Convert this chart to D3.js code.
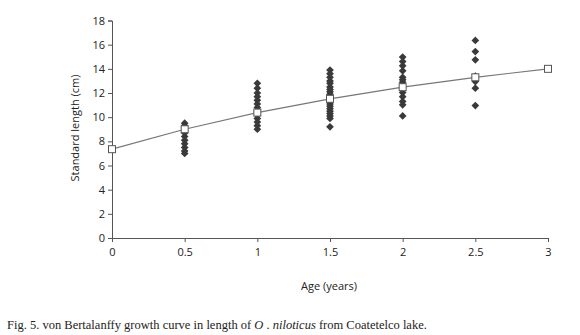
<!DOCTYPE html>
<html>
<head>
<meta charset="utf-8">
<script src="https://cdn.jsdelivr.net/npm/d3@7.9.0/dist/d3.min.js"></script>
<style>
  body { margin: 0; background: #fff; }
  svg { display: block; }
</style>
</head>
<body>
<svg id="chart" width="580" height="335"></svg>
<script>
// fitted von Bertalanffy curve values (age, length)
const fitAges = [0, 0.5, 1, 1.5, 2, 2.5, 3];
const fitLengths = [7.35, 9.0, 10.38, 11.52, 12.48, 13.3, 14.0];

// observed lengths per age class
const obsAges = [0.5, 1, 1.5, 2, 2.5];
const obsLengths = [
  [9.5, 9.3, 9.1, 8.9, 8.7, 8.4, 8.1, 7.8, 7.5, 7.2, 7.0],
  [12.8, 12.4, 12.0, 11.7, 11.4, 11.1, 10.8, 10.5, 10.2, 9.9, 9.6, 9.3, 9.0],
  [13.9, 13.6, 13.3, 13.0, 12.8, 12.5, 12.3, 12.1, 11.9, 11.7, 11.5, 11.3, 11.1, 10.9, 10.7, 10.5, 10.3, 10.1, 9.9, 9.2],
  [14.97, 14.6, 14.25, 13.84, 13.3, 13.09, 12.9, 12.49, 12.04, 11.7, 11.3, 11.02, 10.1],
  [16.35, 15.43, 14.75, 13.4, 12.95, 12.4, 10.96]
];

const xTicks = [0, 0.5, 1, 1.5, 2, 2.5, 3];
const yTicks = [0, 2, 4, 6, 8, 10, 12, 14, 16, 18];

const svg = d3.select("#chart");
const x = d3.scaleLinear().domain([0, 3]).range([112, 548]);
const y = d3.scaleLinear().domain([0, 18]).range([238, 20.5]);

const axisColor = "#555";
const tickFont = "'Open Sans', sans-serif";

// y axis
const yAxis = svg.append("g")
  .attr("transform", "translate(112,0)")
  .call(d3.axisLeft(y).tickValues(yTicks).tickSize(4).tickPadding(3).tickFormat(d3.format("d")));
yAxis.select(".domain").attr("stroke", axisColor);
yAxis.selectAll(".tick line").attr("stroke", axisColor);
yAxis.selectAll("text")
  .style("font-family", tickFont)
  .style("font-size", "11px")
  .attr("fill", "#222");

// x axis
const xAxis = svg.append("g")
  .attr("transform", "translate(0,238)")
  .call(d3.axisBottom(x).tickValues(xTicks).tickSize(4).tickPadding(6).tickFormat(d => d));
xAxis.select(".domain").attr("stroke", axisColor);
xAxis.selectAll(".tick line").attr("stroke", axisColor);
xAxis.selectAll("text")
  .style("font-family", tickFont)
  .style("font-size", "11px")
  .attr("fill", "#222");

// observed points
const obs = [];
obsAges.forEach((a, i) => obsLengths[i].forEach(v => obs.push({ age: a, len: v })));

svg.append("g")
  .selectAll("path")
  .data(obs)
  .join("path")
  .attr("transform", d => `translate(${x(d.age)},${y(d.len)})`)
  .attr("d", d3.symbol().type(d3.symbolDiamond2).size(38))
  .attr("fill", "#3a3a3a");

// fitted curve
const fit = fitAges.map((a, i) => ({ age: a, len: fitLengths[i] }));
svg.append("path")
  .datum(fit)
  .attr("d", d3.line().x(d => x(d.age)).y(d => y(d.len)))
  .attr("fill", "none")
  .attr("stroke", "#777")
  .attr("stroke-width", 1.2);

svg.append("g")
  .selectAll("rect")
  .data(fit)
  .join("rect")
  .attr("x", d => x(d.age) - 3.5)
  .attr("y", d => y(d.len) - 3.5)
  .attr("width", 7)
  .attr("height", 7)
  .attr("fill", "#fff")
  .attr("stroke", "#555")
  .attr("stroke-width", 1);

// axis titles
svg.append("text")
  .attr("x", 329)
  .attr("y", 290)
  .attr("text-anchor", "middle")
  .style("font-family", tickFont)
  .style("font-size", "11px")
  .attr("fill", "#222")
  .text("Age (years)");

svg.append("text")
  .attr("transform", "translate(79,128) rotate(-90)")
  .attr("text-anchor", "middle")
  .style("font-family", tickFont)
  .style("font-size", "11px")
  .attr("fill", "#222")
  .text("Standard length (cm)");

// caption
const cap = svg.append("text")
  .attr("x", 7)
  .attr("y", 329)
  .style("font-family", "'Liberation Serif', serif")
  .style("font-size", "12.5px")
  .attr("fill", "#222");
cap.append("tspan").text("Fig. 5. von Bertalanffy growth curve in length of ");
cap.append("tspan").style("font-style", "italic").text("O");
cap.append("tspan").text(" . ");
cap.append("tspan").style("font-style", "italic").text("niloticus");
cap.append("tspan").text(" from Coatetelco lake.");
</script>
</body>
</html>
